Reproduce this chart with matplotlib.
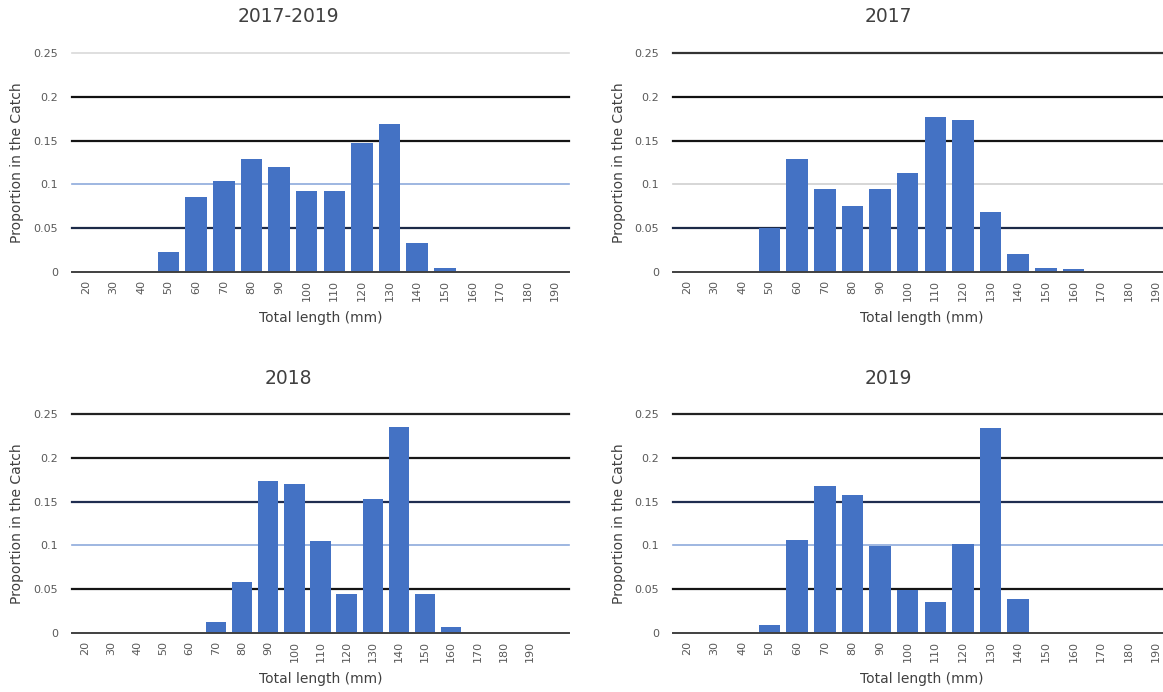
import numpy as np
import matplotlib
matplotlib.use('Agg')
import matplotlib.pyplot as plt

# Lunghezze (mm) e proporzioni nel pescato
lengths = [20, 30, 40, 50, 60, 70, 80, 90, 100, 110, 120, 130, 140, 150, 160, 170, 180, 190]
lengths_2018 = lengths + ['']

prop_all = [0, 0, 0, 0.023, 0.086, 0.104, 0.129, 0.120, 0.092, 0.093, 0.147, 0.169,
            0.033, 0.0045, 0, 0, 0, 0]
prop_2017 = [0, 0, 0, 0.050, 0.129, 0.095, 0.075, 0.095, 0.113, 0.177, 0.174, 0.068,
             0.020, 0.005, 0.003, 0, 0, 0]
prop_2018 = [0, 0, 0, 0, 0, 0.0125, 0.058, 0.174, 0.170, 0.105, 0.044, 0.1525,
             0.2356, 0.045, 0.0065, 0, 0, 0, 0]
prop_2019 = [0, 0, 0, 0.0087, 0.106, 0.168, 0.157, 0.099, 0.049, 0.035, 0.102, 0.234,
             0.039, 0, 0, 0, 0, 0]

yticks = [0, 0.05, 0.1, 0.15, 0.2, 0.25]
ytick_labels = ['0', '0.05', '0.1', '0.15', '0.2', '0.25']

W, H = 1163, 692
fig = plt.figure(figsize=(W / 100, H / 100), dpi=100)

BAR = '#4472C4'
TXT = '#595959'

# colori delle griglie (scansione irregolare)
grid_a = ['#d9d9d9', '#111111', '#151515', '#8eaadb', '#1c2a48']
grid_b = ['#333333', '#111111', '#151515', '#cfcfcf', '#1c2a48']
grid_c = ['#222222', '#181818', '#1f2d50', '#8eaadb', '#151515']

panels = [
    ('2017-2019', lengths, prop_all, (72, 53), grid_a, 288, 17, 17),
    ('2017', lengths, prop_2017, (673, 53), grid_b, 888, 17, 619),
    ('2018', lengths_2018, prop_2018, (72, 414), grid_c, 288, 378, 17),
    ('2019', lengths, prop_2019, (673, 414), grid_c, 888, 378, 619),
]

for title, cats, vals, (px, py), gcols, tx, ty, ylx in panels:
    pw, ph = 497, 219
    ax = fig.add_axes([px / W, 1 - (py + ph) / H, pw / W, ph / H])
    x = np.arange(len(cats))
    ax.bar(x, vals, width=0.78, color=BAR, zorder=3)
    ax.set_xlim(-0.5, len(cats) - 0.5)
    ax.set_ylim(0, 0.25)
    for yv, c in zip([0.25, 0.2, 0.15, 0.1, 0.05], gcols):
        ax.axhline(yv, color=c, lw=1.6 if c[1] in '123' else 1.2, zorder=1, clip_on=False)
    for s in ['top', 'right', 'left']:
        ax.spines[s].set_visible(False)
    ax.spines['bottom'].set_color('#404040')
    ax.spines['bottom'].set_linewidth(1.4)
    ax.spines['bottom'].set_zorder(4)
    ax.set_xticks(x)
    ax.set_xticklabels([str(c) for c in cats], rotation=90, fontsize=8, color=TXT)
    ax.set_yticks(yticks)
    ax.set_yticklabels(ytick_labels, fontsize=8, color=TXT)
    ax.tick_params(axis='x', length=0, pad=6)
    ax.tick_params(axis='y', length=0, pad=10)
    ax.set_xlabel('Total length (mm)', fontsize=10, color='#404040', labelpad=7)
    fig.text(ylx / W, 1 - (py + ph / 2) / H, 'Proportion in the Catch', rotation=90,
             fontsize=10, color='#404040', ha='center', va='center')
    fig.text(tx / W, 1 - ty / H, title, fontsize=13.5, color='#404040',
             ha='center', va='center')

fig.savefig('out.png', dpi=100)
